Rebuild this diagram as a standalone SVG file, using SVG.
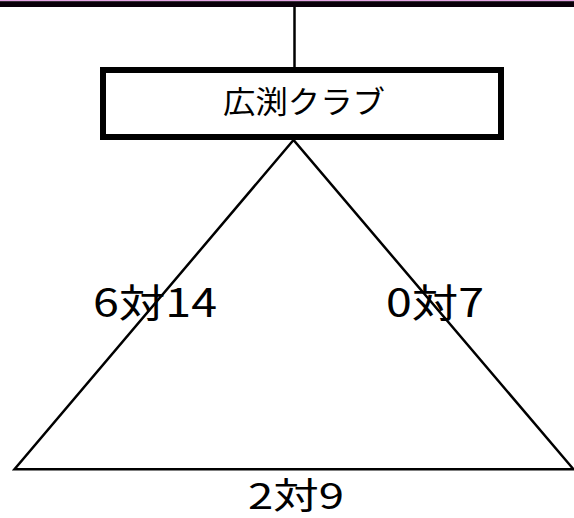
<svg xmlns="http://www.w3.org/2000/svg" width="574" height="518" viewBox="0 0 574 518">
<style>
.ln{stroke:#000;stroke-width:2.5;fill:none;stroke-linejoin:miter}
.lbl{font-family:"Noto Sans CJK JP","Noto Sans",sans-serif;fill:#000}
</style>
<rect x="0" y="0" width="574" height="518" fill="#fff"/>
<g id="topbar">
<rect x="0" y="0" width="574" height="1.2" fill="#e6a6e6"/>
<rect x="0" y="1.2" width="574" height="5.8" fill="#0a000a"/>
</g>
<g id="connectors">
<line class="ln" x1="294.5" y1="7" x2="294.5" y2="68"/>
<polygon class="ln" points="293.5,140 14.5,469.3 573.5,469.3"/>
</g>
<g id="club">
<rect x="103" y="70" width="398" height="67" fill="#fff" stroke="#000" stroke-width="6"/>
<text class="lbl" x="223" y="113" font-size="31" textLength="162" lengthAdjust="spacingAndGlyphs">広渕クラブ</text>
</g>
<g id="score-left">
<text class="lbl" x="93" y="317" font-size="39" textLength="124" lengthAdjust="spacingAndGlyphs">6対14</text>
</g>
<g id="score-right">
<text class="lbl" x="386" y="317" font-size="39" textLength="98" lengthAdjust="spacingAndGlyphs">0対7</text>
</g>
<g id="score-bottom">
<text class="lbl" x="248" y="509" font-size="36" textLength="96" lengthAdjust="spacingAndGlyphs">2対9</text>
</g>
</svg>
